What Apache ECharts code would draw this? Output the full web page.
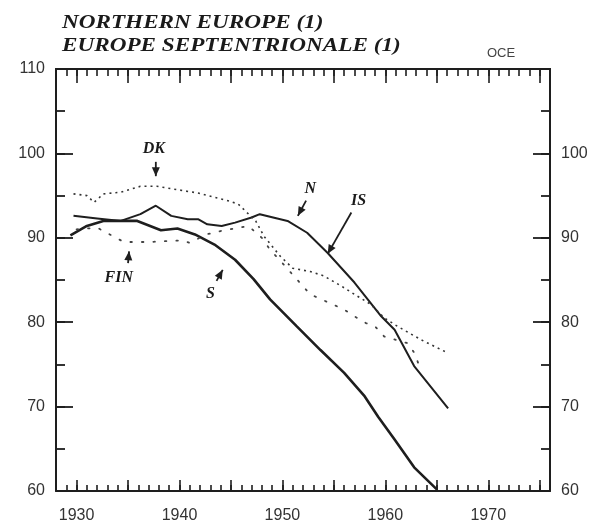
<!DOCTYPE html>
<html><head><meta charset="utf-8">
<script src="https://cdn.jsdelivr.net/npm/echarts@6/dist/echarts.min.js"></script>
<style>html,body{margin:0;padding:0;background:#fff}#c{width:592px;height:525px}</style>
</head><body><div id="c"></div><script>
// ---- data ----
const titleLines = ['NORTHERN EUROPE (1)', 'EUROPE SEPTENTRIONALE (1)'];
const cornerNote = 'OCE';
const xLabelValues = [1930, 1940, 1950, 1960, 1970];
const yLabelsLeft = [60, 70, 80, 90, 100, 110];
const yLabelsRight = [60, 70, 80, 90, 100];

const S_series = [[1929.4,90.3],[1931,91.4],[1932.6,92.0],[1935.9,92.0],[1938.2,90.9],[1939.8,91.1],[1941.5,90.4],[1943.4,89.2],[1945.4,87.4],[1947.2,85.1],[1948.8,82.7],[1951.4,79.5],[1953.7,76.7],[1956,74.0],[1958,71.2],[1959.3,68.8],[1960.9,66.1],[1962.8,62.8],[1965,60.2]];
const N_series = [[1929.7,92.6],[1932,92.3],[1934.3,92.0],[1936.2,92.8],[1937.7,93.8],[1939.2,92.6],[1940.8,92.2],[1941.8,92.2],[1942.7,91.6],[1944.1,91.4],[1945.4,91.8],[1947,92.4],[1947.8,92.8],[1950.5,92.0],[1952.4,90.6],[1954.4,88.2],[1957,84.7],[1959.6,80.7],[1960.9,79.1],[1962.8,74.8],[1966.1,69.8]];
const DK_series = [[1929.7,95.2],[1931,95.0],[1931.7,94.2],[1932.6,95.2],[1934.3,95.4],[1936.2,96.1],[1937.8,96.1],[1939.8,95.7],[1941.8,95.3],[1943.4,94.8],[1944.7,94.4],[1945.7,94.0],[1947.4,92.0],[1948.2,90.2],[1949.8,87.8],[1951,86.4],[1952.7,86.0],[1954,85.5],[1955.7,84.3],[1957,83.3],[1958.6,82.1],[1959.9,80.5],[1961.2,79.5],[1963.5,77.9],[1966,76.4]];
const FIN_series = [[1930,91.0],[1932,91.2],[1934.6,89.5],[1937,89.5],[1940.3,89.7],[1941,89.4],[1942.6,90.4],[1944,90.8],[1946.7,91.4],[1948,90.0],[1948.8,88.6],[1950,87.0],[1952.7,83.3],[1956,81.5],[1957,80.7],[1958.1,79.9],[1959,79.5],[1959.9,78.3],[1962.2,77.5],[1962.8,76.4],[1963.5,74.2]];

// annotation labels: text position, arrow tail, arrow tip (data coords)
const annoText = ['DK', 'N', 'IS', 'S', 'FIN'];
const annoAt   = [[1937.5,100.5],[1952.7,95.8],[1957.4,94.4],[1943.0,83.4],[1934.1,85.3]];
const annoTail = [[1937.7,99.0],[1952.3,94.4],[1956.7,93.0],[1943.6,84.9],[1935.0,87.0]];
const annoTip  = [[1937.7,97.3],[1951.5,92.6],[1954.4,88.1],[1944.2,86.2],[1935.1,88.4]];

// ---- build ----
const INK = '#1e1e1e';
const years = []; for (let y = 1928; y <= 1976; y++) years.push(y);
const fives = years.filter(y => y % 5 === 0);
const yFives = []; for (let v = 60; v <= 110; v += 5) yFives.push(v);
const tickFont = {fontFamily: '"Liberation Sans", Arial, sans-serif', fontSize: 16, color: '#333', formatter: v => String(v)};

function xAx(pos, len, vals, labels) {
  return {type: 'value', min: 1928, max: 1976, position: pos,
    axisLine: {show: labels !== undefined || pos === 'top', lineStyle: {color: INK, width: 2}},
    axisTick: {inside: true, length: len, customValues: vals, lineStyle: {color: INK, width: 1.6}},
    axisLabel: labels ? Object.assign({customValues: labels, margin: 17}, tickFont) : {show: false},
    splitLine: {show: false}};
}
function yAx(pos, len, vals, labels, showLine) {
  return {type: 'value', min: 60, max: 110, position: pos,
    axisLine: {show: showLine, lineStyle: {color: INK, width: 2}},
    axisTick: {inside: true, length: len, customValues: vals, lineStyle: {color: INK, width: 1.8}},
    axisLabel: labels ? Object.assign({customValues: labels, margin: 11}, tickFont) : {show: false},
    splitLine: {show: false}};
}

const chart = echarts.init(document.getElementById('c'), null, {renderer: 'canvas'});
const option = {
  animation: false,
  backgroundColor: '#fff',
  grid: {left: 56, right: 42, top: 69, bottom: 34},
  xAxis: [
    xAx('bottom', 11, fives, xLabelValues),
    xAx('bottom', 6, years),
    xAx('top', 14, fives),
    xAx('top', 7, years)
  ],
  yAxis: [
    yAx('left', 17, yLabelsLeft, yLabelsLeft, true),
    yAx('left', 9, yFives, undefined, false),
    yAx('right', 17, yLabelsRight, yLabelsRight, true),
    yAx('right', 9, yFives, undefined, false)
  ],
  series: [
    {name: 'S', type: 'line', data: S_series, showSymbol: false, lineStyle: {color: INK, width: 2.6}},
    {name: 'N', type: 'line', data: N_series, showSymbol: false, lineStyle: {color: INK, width: 2}},
    {name: 'DK', type: 'line', data: DK_series, showSymbol: false, lineStyle: {color: '#333', width: 1.6, type: [2, 4]}},
    {name: 'FIN', type: 'line', data: FIN_series, showSymbol: false, lineStyle: {color: '#444', width: 1.8, type: [1.5, 10], cap: 'round'}}
  ]
};
chart.setOption(option);

// annotations placed via the chart's own scales
const g = [];
const serif = '"Liberation Serif", "DejaVu Serif", serif';
titleLines.forEach((t, i) => g.push({type: 'text', x: 62, y: 14 + i * 23, scaleX: 1.22,
  style: {text: t, fontFamily: serif, fontStyle: 'italic', fontWeight: 'bold', fontSize: 19, fill: '#1a1a1a'}}));
g.push({type: 'text', left: 487, top: 47, style: {text: cornerNote, fontFamily: '"Liberation Sans", sans-serif', fontSize: 13, fill: '#444'}});
annoText.forEach((t, i) => {
  const p = chart.convertToPixel({gridIndex: 0}, annoAt[i]);
  const a = chart.convertToPixel({gridIndex: 0}, annoTail[i]);
  const b = chart.convertToPixel({gridIndex: 0}, annoTip[i]);
  g.push({type: 'text', x: p[0], y: p[1], style: {text: t, fontFamily: serif, fontStyle: 'italic', fontWeight: 'bold', fontSize: 16, fill: '#1a1a1a', align: 'center', verticalAlign: 'middle'}});
  g.push({type: 'line', shape: {x1: a[0], y1: a[1], x2: b[0], y2: b[1]}, style: {stroke: INK, lineWidth: 1.8}});
  const dx = b[0] - a[0], dy = b[1] - a[1], L = Math.hypot(dx, dy) || 1;
  const ux = dx / L, uy = dy / L, hl = 9, hw = 4;
  g.push({type: 'polygon', shape: {points: [[b[0], b[1]], [b[0] - ux * hl - uy * hw, b[1] - uy * hl + ux * hw], [b[0] - ux * hl + uy * hw, b[1] - uy * hl - ux * hw]]}, style: {fill: INK}});
});
chart.setOption({graphic: g});
</script></body></html>
